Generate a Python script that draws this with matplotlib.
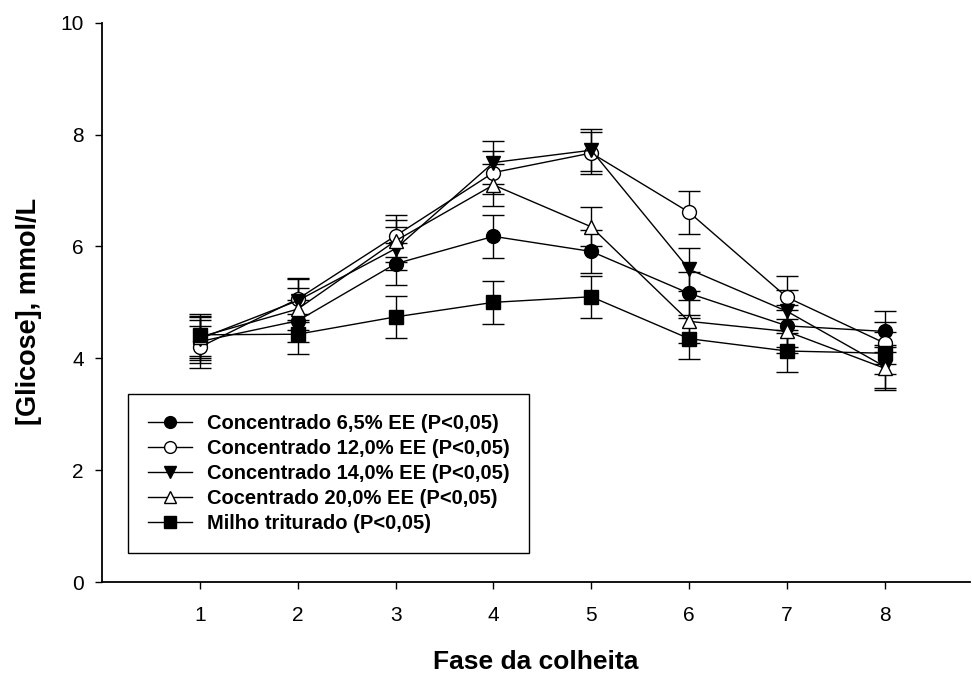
import matplotlib
matplotlib.use("Agg")
import matplotlib.pyplot as plt
import numpy as np

plt.rcParams['font.family'] = ['Liberation Sans', 'DejaVu Sans']

fases = [1, 2, 3, 4, 5, 6, 7, 8]
labels = ["Concentrado 6,5% EE (P<0,05)",
          "Concentrado 12,0% EE (P<0,05)",
          "Concentrado 14,0% EE (P<0,05)",
          "Cocentrado 20,0% EE (P<0,05)",
          "Milho triturado (P<0,05)"]
conc_65 = [4.30, 4.67, 5.69, 6.18, 5.91, 5.16, 4.58, 4.48]
conc_120 = [4.20, 5.06, 6.19, 7.32, 7.67, 6.61, 5.09, 4.27]
conc_140 = [4.35, 5.03, 5.96, 7.50, 7.72, 5.59, 4.84, 3.85]
conc_200 = [4.38, 4.88, 6.10, 7.10, 6.35, 4.66, 4.48, 3.82]
milho = [4.42, 4.43, 4.74, 5.00, 5.10, 4.35, 4.13, 4.09]
err_65 = [0.38, 0.38, 0.38, 0.38, 0.38, 0.38, 0.38, 0.37]
err_120 = [0.38, 0.38, 0.38, 0.38, 0.38, 0.38, 0.38, 0.38]
err_140 = [0.38, 0.38, 0.38, 0.38, 0.38, 0.38, 0.38, 0.38]
err_200 = [0.38, 0.38, 0.38, 0.38, 0.35, 0.38, 0.38, 0.38]
err_milho = [0.38, 0.36, 0.38, 0.38, 0.38, 0.37, 0.38, 0.38]

series = [conc_65, conc_120, conc_140, conc_200, milho]
errors = [err_65, err_120, err_140, err_200, err_milho]
markers = ['o', 'o', 'v', '^', 's']
faces = ['black', 'white', 'black', 'white', 'black']

fig = plt.figure(figsize=(9.72, 6.75), dpi=100)
ax_h = 582 - 22.7
ax = fig.add_axes([102/972, 1 - 582/675, 868/972, ax_h/675])

for y, e, m, fc, lab in zip(series, errors, markers, faces, labels):
    ax.errorbar(fases, y, yerr=e, color='black', marker=m, markersize=10,
                markerfacecolor=fc, markeredgecolor='black', markeredgewidth=1.0,
                linewidth=1.0, elinewidth=1.0, capsize=8, capthick=1.0, label=lab)

ax.set_xlim(0, 8.87)
ax.set_ylim(0, 10)
ax.set_xticks(fases)
ax.set_yticks([0, 2, 4, 6, 8, 10])
ax.spines['top'].set_visible(False)
ax.spines['right'].set_visible(False)
ax.spines['left'].set_linewidth(1.3)
ax.spines['bottom'].set_linewidth(1.3)
ax.tick_params(axis='both', direction='out', length=5, width=1.0, labelsize=15)
ax.tick_params(axis='x', pad=12)
ax.tick_params(axis='y', pad=8)

ax.set_xlabel("Fase da colheita", fontsize=19, fontweight='bold')
ax.set_ylabel("[Glicose], mmol/L", fontsize=19.5, fontweight='bold')
ax.xaxis.set_label_coords(0.5, -(662 - 582) / ax_h)
ax.xaxis.label.set_verticalalignment('center')
ax.yaxis.set_label_coords(-(102 - 29) / 868, (582 - 311) / ax_h)
ax.yaxis.label.set_verticalalignment('center')

handles, labs = ax.get_legend_handles_labels()
handles = [h[0] for h in handles]
leg = ax.legend(handles, labs, loc='upper left', bbox_to_anchor=(128/972, 1 - 394/675),
                bbox_transform=fig.transFigure, fancybox=False, framealpha=1,
                edgecolor='black', prop={'weight': 'bold', 'size': 14.5},
                handlelength=2.2, handletextpad=0.7, labelspacing=0.3,
                borderpad=1.0, borderaxespad=0, markerscale=0.85)
leg.get_frame().set_linewidth(1.0)

fig.savefig("out.png", dpi=100)
